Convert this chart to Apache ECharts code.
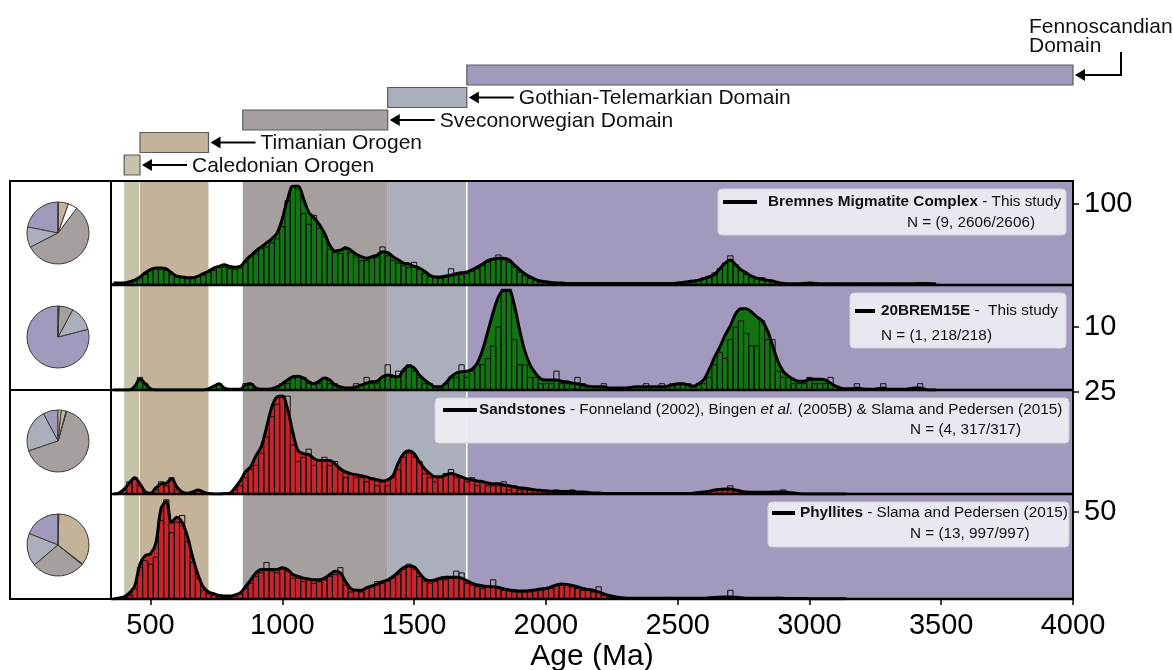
<!DOCTYPE html>
<html>
<head>
<meta charset="utf-8">
<script src="https://cdn.jsdelivr.net/npm/echarts@6/dist/echarts.min.js"></script>
<style>
html,body{margin:0;padding:0;background:#fff;}
#chart{width:1173px;height:670px;}
</style>
</head>
<body>
<div id="chart"></div>
<script>
// ---------------- DATA ----------------
// bin centres: 360, 380, 400 ... (20 Ma bins)
const AGE0 = 360, STEP = 20;

const xTickValues = [500, 1000, 1500, 2000, 2500, 3000, 3500, 4000];
const yTickValues = [100, 10, 25, 50];

// Domains / bands (Ma)
const domainNames = ['Caledonian Orogen', 'Timanian Orogen', 'Sveconorwegian Domain', 'Gothian-Telemarkian Domain', 'Fennoscandian\nDomain'];
const domainStart = [400, 460, 850, 1400, 1700];
const domainEnd   = [460, 720, 1400, 1700, 4000];

// Panel 1: Bremnes Migmatite Complex
const p1Curve = [
  2.5,2.5,2.5,4,6,10,15,19,21,21,
  20,15,11,10,9,9,11,14,17,21,
  23,25,23,22,23,30,36,42,47,52,
  57,64,82,106,122,122,107,90,83,75,
  64,49,42,43,46,43,38,35,33,35,
  37,41,40,35,31,27,26,23,21,17,
  12,10,10,11,12,14,15,16,19,22,
  26,30,32,33,33,31,25,19,14,10,
  7,5,4,3,2.5,2.5,2,2,2,2,
  2,2,2,2,2,2,2,2,2,2,
  2,2,2,2,2,2,2,2.5,3,4,
  5,6,8,10,13,20,27,31,25,19,
  15,11,8.5,7,6,5,3,2,1.5,1.5,
  1.5,2,2.5,2,1.5,1.5,1.5,1.5,1.5,1.5,
  1.5,1.5,1.5,1.5,1.5,1.5,1.5,1.5,1.5,1.5,
  1.5,1.5,1.5,2,2,1.5,1.5
];
const p1Hist = [
  2,2,3,4,6,9,13,19,20,20,
  18,13,10,9,8,9,10,12,16,18,
  22,22,20,19,21,28,36,38,45,47,
  52,57,72,104,122,118,88,75,86,70,
  60,44,40,39,44,40,34,30,30,33,
  34,47,36,30,27,24,22,28,19,14,
  10,9,8,10,20,12,13,14,17,20,
  24,28,31,37,31,28,22,16,12,8,
  6,4,3,2,2,3,2,1,2,2,
  1,2,2,3,1,2,2,1,2,2,
  1,2,2,2,1,2,2,2,3,4,
  4,5,9,11,15,20,27,36,25,18,
  13,10,8,9,5,4,2,2,1,1,
  2,2,3,2,1,1,1,2,1,1,
  1,1,2,1,1,1,1,1,2,1,
  1,1,1,2,2,1,1
];

// Panel 2: 20BREM15E
const p2Curve = [
  0,0,0,0,0.6,1.7,1.0,0.2,0,0,
  0,0,0,0,0,0,0,0,0.2,0.6,
  1.0,0.3,0.1,0.1,0.1,0.8,1.0,0.3,0.1,0.1,
  0.2,0.5,1.0,1.6,2.1,2.2,1.9,1.3,1.0,1.4,
  1.9,1.6,0.8,0.5,0.3,0.3,0.5,0.8,1.1,1.3,
  1.4,2.1,2.4,2.2,2.1,3.2,3.8,3.5,2.4,1.6,
  1.0,0.5,0.5,1.1,2.1,2.7,2.9,3.0,3.3,4.3,
  6.4,9.3,12.3,14.8,15.8,15.8,13.5,9.6,6.2,4.0,
  2.7,1.8,1.6,1.6,1.6,1.4,1.3,1.1,1.0,0.8,
  0.6,0.5,0.5,0.5,0.3,0.3,0.3,0.3,0.4,0.5,
  0.5,0.5,0.5,0.5,0.5,0.6,0.8,1.0,1.0,0.8,
  0.6,1.0,1.7,3.3,5.2,6.8,8.7,10.2,12.1,12.9,
  12.9,12.4,11.6,11.0,9.5,7.1,4.6,3.0,2.2,1.7,
  1.4,1.4,1.7,1.7,1.7,1.6,1.1,0.6,0.3,0.2,
  0.2,0.3,0.2,0.1,0.1,0.2,0.3,0.1,0.1,0.1,
  0.1,0.2,0.3,0.3,0.1,0,0
];
const p2Hist = [
  0,0,0,0,0,2,1,0,0,0,
  0,0,0,0,0,0,0,0,0,0,
  1,0,0,0,0,1,1,0,0,0,
  0,0,1,1,2,2,2,1,1,1,
  2,1,1,0,0,0,1,0,2,1,
  1,2,4,2,3,3,4,3,2,1,
  1,0,0,1,2,2,4,2,3,4,
  4,5,7,10,16,16,8,4,4,2,
  2,1,1,1,3,1,1,1,2,1,
  0,0,0,1,0,0,0,0,0,0,
  0,1,0,0,1,0,1,1,1,1,
  0,1,1,2,4,6,5,8,10,11,
  9,7,7,11,8,8,3,2,2,1,
  1,1,2,1,1,1,2,0,0,0,
  0,1,0,0,0,0,1,0,0,0,
  0,0,0,1,0,0,0
];

// Panel 3: Sandstones
const p3Curve = [
  0,0.2,1.2,2.7,4.0,2.5,0.5,0.2,1.5,2.5,
  2.7,3.7,1.7,0.5,0.2,0.5,1.0,0.5,0.1,0,
  0,0.1,0.2,1.5,3.2,5.4,6.7,9.4,11.6,16.3,
  21.3,23.8,24.0,20.8,15.1,10.6,9.9,9.7,8.7,8.2,
  8.2,8.2,7.4,6.2,5.4,5.0,4.7,4.5,4.2,3.7,
  3.5,3.2,3.5,4.5,7.7,9.9,10.6,9.9,7.9,6.2,
  5.0,4.2,4.2,4.7,5.0,4.7,4.2,3.7,3.5,3.2,
  3.0,2.7,2.5,2.5,2.2,2.0,1.7,1.5,1.4,1.2,
  1.0,0.9,0.7,0.7,0.6,0.6,0.6,0.6,0.5,0.5,
  0.4,0.25,0.25,0.15,0.15,0.15,0.15,0.15,0.15,0.15,
  0.15,0.15,0.15,0.15,0.15,0.15,0.15,0.15,0.15,0.15,
  0.2,0.4,0.5,0.7,1.0,1.1,1.2,1.2,1.0,0.7,
  0.5,0.4,0.4,0.4,0.4,0.5,0.5,0.5,0.4,0.25,
  0.1,0,0,0,0,0,0,0,0,0
];
const p3Hist = [
  0,0,1,3,4,2,0,0,1,3,
  2,4,1,0,0,0,1,0,0,0,
  0,0,0,1,2,4,6,7,10,14,
  19,22,24,24,12,8,9,11,7,8,
  9,7,8,6,4,5,4,4,3,4,
  2,3,2,4,6,9,10,9,8,5,
  4,3,4,5,6,4,4,3,4,2,
  3,2,2,2,3,1,2,1,1,1,
  1,0,1,0,1,0,0,1,0,0,
  0,0,0,0,0,0,0,0,0,0,
  0,0,0,0,0,0,0,0,0,0,
  0,0,0,0,1,0,1,2,1,0,
  0,0,0,0,0,0,0,1,0,0,
  0,0,0,0,0,0,0,0,0,0
];

// Panel 4: Phyllites
const p4Curve = [
  0,0.6,1.2,3.5,7.5,20,25,26,32,52,
  56,44,47,44,36,24,14,7,4,3,
  2,1.7,1.7,2.3,3.5,7,11,15,17,17,
  17,17,18,17,14,13,12,11.5,11,11,
  12,14,16,15,10,6,5,5,6.5,7.5,
  8.5,10,11,13,15.5,18,19,18.5,15,11.5,
  10.5,11,12,12.5,12.5,12.5,12,10.5,9,8,
  7.5,7.2,7,6.6,5.8,5.2,4.9,4.6,4.6,4.9,
  5.2,5.8,6,7,8,8.6,8.3,7.8,7,6,
  5.5,5,4,2.9,2,1.4,0.9,0.6,0.5,0.5,
  0.5,0.5,0.5,0.5,0.5,0.5,0.5,0.5,0.5,0.5,
  0.5,0.5,0.5,0.7,0.9,1.0,1.2,1.2,1.0,0.7,
  0.5,0.4,0.4,0.4,0.4,0.4,0.4,0.4,0.3,0.3,
  0.3,0.3,0.2,0.2,0.2,0.2,0.2,0.2,0.2,0.2
];
const p4Hist = [
  0,0,1,2,6,18,22,20,24,45,
  57,38,44,48,33,21,12,5,3,2,
  1,1,1,2,3,6,9,13,15,21,
  16,15,17,16,12,12,10,11,9,10,
  11,13,14,18,8,4,5,4,6,7,
  10,9,10,12,14,17,20,17,13,10,
  9,10,11,11,12,16,15,9,8,7,
  6,7,11,6,5,5,4,4,4,4,
  5,5,6,6,8,8,8,7,6,5,
  5,4,7,2,1,1,0,0,0,0,
  0,0,0,0,0,1,0,0,0,0,
  0,0,0,0,1,0,1,5,1,0,
  0,0,0,0,0,0,1,0,0,0,
  0,0,0,0,0,0,0,0,0,0
];

// Pie fractions (%), order: Fennoscandian, Gothian-Telemarkian, Sveconorwegian, gap, Timanian, Caledonian
const pieNames = ['Fennoscandian', 'Gothian-Telemarkian', 'Sveconorwegian', 'No domain', 'Timanian', 'Caledonian'];
const pie1 = [21.9, 10.7, 57.3, 4.9, 5.2, 0.2];
const pie2 = [79.0, 13.1, 7.4, 0.2, 0.3, 0];
const pie3 = [7.8, 22.4, 65.3, 0.3, 2.6, 1.6];
const pie4 = [19.0, 17.2, 27.9, 0.5, 35.0, 0.4];

// Legend texts
const legendTitles = ['Bremnes Migmatite Complex', '20BREM15E', 'Sandstones', 'Phyllites'];
const legendN = ['N = (9, 2606/2606)', 'N = (1, 218/218)', 'N = (4, 317/317)', 'N = (13, 997/997)'];

// ---------------- STYLE / LAYOUT ----------------
const FONT = "'Liberation Sans', Arial, sans-serif";
const GREEN = '#127512', RED = '#c3262b';
const bandColors = ['#c5c4a9', '#c4b299', '#a5a09e', '#aaafbb', '#a19abc'];
const pieColors = ['#a19abc', '#aaafbb', '#a5a09e', '#ffffff', '#c4b299', '#c5c4a9'];
const PL = 111, PW = 962;
const panelTop = [181, 285, 390, 494];
const panelH = [104, 105, 104, 105];
const panelYMax = [128.4, 16.67, 25.5, 60.3];
const HALF_BIN = 10;

const panels = [
  {curve: p1Curve, hist: p1Hist, color: GREEN},
  {curve: p2Curve, hist: p2Hist, color: GREEN},
  {curve: p3Curve, hist: p3Hist, color: RED},
  {curve: p4Curve, hist: p4Hist, color: RED}
];
const pies = [pie1, pie2, pie3, pie4];
const pieCY = [233, 337, 441, 545];

function pairs(arr) { return arr.map((v, i) => [AGE0 + i * STEP, v]); }

function bandRender(params, api) {
  const k = params.dataIndex;
  const cs = params.coordSys;
  const x0 = api.coord([api.value(0), 0])[0];
  const x1 = api.coord([api.value(1), 0])[0];
  const children = [{type: 'rect', shape: {x: x0, y: cs.y, width: x1 - x0, height: cs.height},
    style: {fill: bandColors[k]}}];
  if (k === 0) children.push({type: 'line', shape: {x1: x1, y1: cs.y, x2: x1, y2: cs.y + cs.height}, style: {stroke: '#fff', lineWidth: 1.5}});
  if (k === 4) children.push({type: 'line', shape: {x1: x0, y1: cs.y, x2: x0, y2: cs.y + cs.height}, style: {stroke: '#fff', lineWidth: 1.5}});
  return {type: 'group', children};
}

function barRender(params, api) {
  const age = api.value(0), cnt = api.value(1);
  if (!cnt) return {type: 'group', children: []};
  const p0 = api.coord([age - HALF_BIN, cnt]);
  const p1 = api.coord([age + HALF_BIN, 0]);
  return {type: 'rect', shape: {x: p0[0], y: p0[1], width: p1[0] - p0[0], height: p1[1] - p0[1]},
    style: {fill: null, stroke: '#111', lineWidth: 1}};
}

function domainRender(params, api) {
  const i = params.dataIndex;
  const x0 = api.coord([api.value(0), 0])[0];
  const x1 = api.coord([api.value(1), 0])[0];
  const yTop = 155 - i * 22.5, h = 20, cy = yTop + h / 2;
  const ch = [{type: 'rect', shape: {x: x0, y: yTop, width: x1 - x0, height: h},
    style: {fill: bandColors[i], stroke: '#5a5a5a', lineWidth: 1.2}}];
  if (i < 4) {
    ch.push({type: 'line', shape: {x1: x1 + 10, y1: cy, x2: x1 + 47, y2: cy}, style: {stroke: '#000', lineWidth: 2}});
    ch.push({type: 'polygon', shape: {points: [[x1 + 2, cy], [x1 + 12, cy - 6], [x1 + 12, cy + 6]]}, style: {fill: '#000'}});
    ch.push({type: 'text', style: {text: domainNames[i], x: x1 + 52, y: cy + 1, align: 'left', verticalAlign: 'middle',
      font: '21px ' + FONT, fill: '#111'}});
  } else {
    ch.push({type: 'polyline', shape: {points: [[x1 + 48, 52], [x1 + 48, cy], [x1 + 10, cy]]}, style: {stroke: '#000', lineWidth: 2, fill: null}});
    ch.push({type: 'polygon', shape: {points: [[x1 + 2, cy], [x1 + 12, cy - 6], [x1 + 12, cy + 6]]}, style: {fill: '#000'}});
    ch.push({type: 'text', style: {text: domainNames[i], x: x1 - 44, y: 18, align: 'left', verticalAlign: 'top',
      font: '21px ' + FONT, fill: '#111', lineHeight: 19}});
  }
  return {type: 'group', children: ch};
}

const grid = [], xAxis = [], yAxis = [], series = [];
panels.forEach((p, i) => {
  grid.push({left: PL, top: panelTop[i], width: PW, height: panelH[i], show: false, outerBoundsMode: 'none'});
  xAxis.push({
    gridIndex: i, type: 'value', min: 350, max: 4000, show: i === 3,
    axisLine: {show: false}, splitLine: {show: false},
    axisTick: {show: true, customValues: xTickValues, length: 6, lineStyle: {color: '#000', width: 1.5}},
    axisLabel: {customValues: xTickValues, fontSize: 29, fontFamily: FONT, color: '#000', margin: 12,
      formatter: v => String(v)},
    name: i === 3 ? 'Age (Ma)' : '', nameLocation: 'middle', nameGap: 43,
    nameTextStyle: {fontSize: 30, fontFamily: FONT, color: '#000'}
  });
  yAxis.push({
    gridIndex: i, type: 'value', min: 0, max: panelYMax[i], position: 'right',
    axisLine: {show: false}, splitLine: {show: false},
    axisTick: {show: true, customValues: [yTickValues[i]], length: 6, lineStyle: {color: '#000', width: 1.5}},
    axisLabel: {customValues: [yTickValues[i]], fontSize: 29, fontFamily: FONT, color: '#000', margin: 11,
      formatter: v => String(v)}
  });
  series.push({
    type: 'custom', xAxisIndex: i, yAxisIndex: i, silent: true, z: 0,
    data: domainStart.map((s, k) => [s, domainEnd[k]]), renderItem: bandRender
  });
  series.push({
    type: 'line', xAxisIndex: i, yAxisIndex: i, silent: true, z: 1, data: pairs(p.curve),
    smooth: 0.35, symbol: 'none', lineStyle: {width: 0, opacity: 0},
    areaStyle: {color: p.color, opacity: 1}
  });
  series.push({
    type: 'custom', xAxisIndex: i, yAxisIndex: i, silent: true, z: 2,
    data: pairs(p.hist), renderItem: barRender
  });
  series.push({
    type: 'line', xAxisIndex: i, yAxisIndex: i, silent: true, z: 3, data: pairs(p.curve),
    smooth: 0.35, symbol: 'none', lineStyle: {width: 3, color: '#000', join: 'round'}
  });
});

// top annotation grid
grid.push({left: PL, top: 0, width: PW, height: 180, show: false, outerBoundsMode: 'none'});
xAxis.push({gridIndex: 4, type: 'value', min: 350, max: 4000, show: false});
yAxis.push({gridIndex: 4, type: 'value', min: 0, max: 1, show: false});
series.push({
  type: 'custom', xAxisIndex: 4, yAxisIndex: 4, silent: true, z: 5, clip: false,
  data: domainStart.map((s, k) => [s, domainEnd[k]]), renderItem: domainRender
});

// pies
pies.forEach((vals, i) => {
  series.push({
    type: 'pie', center: [58, pieCY[i]], radius: 31, startAngle: 90, clockwise: false,
    silent: true, label: {show: false}, labelLine: {show: false}, z: 5,
    itemStyle: {borderColor: '#3a3a3a', borderWidth: 1},
    data: vals.map((v, k) => ({name: pieNames[k], value: v, itemStyle: {color: pieColors[k]}})).filter(d => d.value > 0)
  });
});

// legend boxes and frames (graphic)
const legendLayout = [
  {box: [718, 189, 348, 46], line: [723, 757, 202], tx: 768, ty: 202, nx: 907, ny: 223, sep: ' - This study'},
  {box: [850, 293, 216, 55], line: [855, 875, 311], tx: 881, ty: 311, nx: 881, ny: 336, sep: ' -  This study'},
  {box: [435, 398, 634, 45], line: [443, 477, 410], tx: 479, ty: 410, nx: 910, ny: 430, sep: null},
  {box: [768, 502, 301, 45], line: [772, 795, 513], tx: 800, ty: 513, nx: 910, ny: 534, sep: ' - Slama and Pedersen (2015)'}
];
const graphics = [];
legendLayout.forEach((L, i) => {
  graphics.push({type: 'rect', z: 50, shape: {x: L.box[0], y: L.box[1], width: L.box[2], height: L.box[3], r: 4},
    style: {fill: 'rgba(236,236,242,0.95)', stroke: '#d2d2da', lineWidth: 1}});
  graphics.push({type: 'line', z: 51, shape: {x1: L.line[0], y1: L.line[2], x2: L.line[1], y2: L.line[2]},
    style: {stroke: '#000', lineWidth: 4}});
  let txt;
  if (i === 2) txt = '{b|' + legendTitles[i] + '}{n| - Fonneland (2002), Bingen }{i|et al.}{n| (2005B) & Slama and Pedersen (2015)}';
  else txt = '{b|' + legendTitles[i] + '}{n|' + L.sep + '}';
  graphics.push({type: 'text', z: 51, style: {text: txt, x: L.tx, y: L.ty, verticalAlign: 'middle', align: 'left',
    rich: {b: {fontWeight: 'bold', fontSize: 15.3, fontFamily: FONT, fill: '#111'},
           n: {fontSize: 15.3, fontFamily: FONT, fill: '#111'},
           i: {fontSize: 15.3, fontStyle: 'italic', fontFamily: FONT, fill: '#111'}}}});
  graphics.push({type: 'text', z: 51, style: {text: legendN[i], x: L.nx, y: L.ny, verticalAlign: 'middle', align: 'left',
    font: '15.3px ' + FONT, fill: '#111'}});
});
// frames
graphics.push({type: 'rect', z: 60, shape: {x: PL, y: 181, width: PW, height: 418}, style: {fill: null, stroke: '#000', lineWidth: 2}});
[285, 390, 494].forEach(y => graphics.push({type: 'line', z: 60, shape: {x1: PL, y1: y, x2: PL + PW, y2: y}, style: {stroke: '#000', lineWidth: 2.5}}));
graphics.push({type: 'line', z: 60, shape: {x1: PL, y1: 599, x2: PL + PW, y2: 599}, style: {stroke: '#000', lineWidth: 2.5}});
graphics.push({type: 'rect', z: 60, shape: {x: 10, y: 181, width: 101, height: 209}, style: {fill: null, stroke: '#000', lineWidth: 2}});
graphics.push({type: 'rect', z: 60, shape: {x: 10, y: 390, width: 101, height: 209}, style: {fill: null, stroke: '#000', lineWidth: 2}});

const chart = echarts.init(document.getElementById('chart'), null, {renderer: 'canvas'});
chart.setOption({
  animation: false,
  backgroundColor: '#fff',
  grid, xAxis, yAxis, series,
  graphic: {elements: graphics}
});
</script>
</body>
</html>
